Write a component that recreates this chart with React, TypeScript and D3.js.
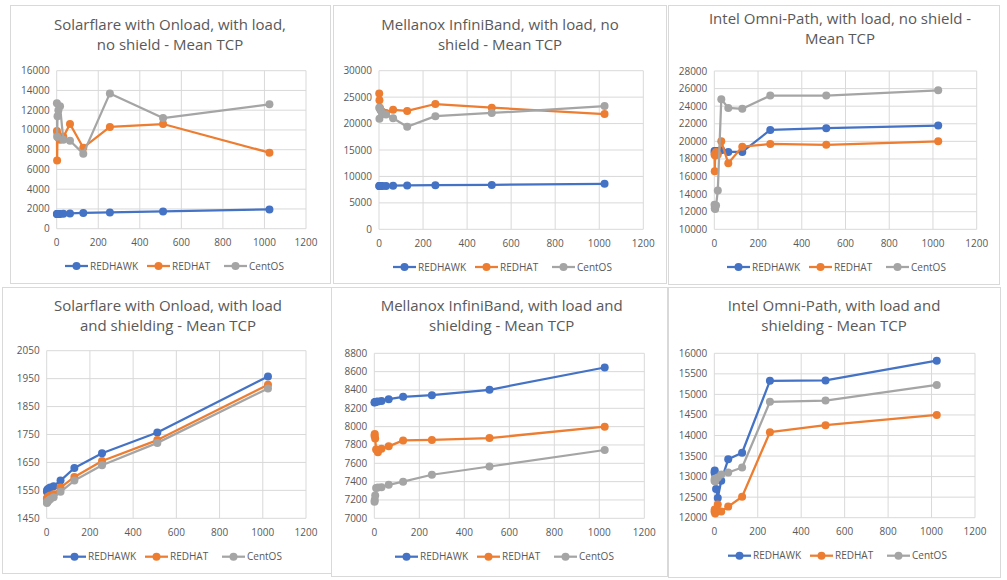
import React from "react";
import * as d3 from "d3";

const xValues = [1, 2, 4, 8, 16, 32, 64, 128, 256, 512, 1024];
const seriesNames = ["REDHAWK", "REDHAT", "CentOS"];
const seriesColors = ["#4472C4", "#ED7D31", "#A5A5A5"];
const xTicks = [0, 200, 400, 600, 800, 1000, 1200];

const titles = [
  ["Solarflare with Onload, with load,", "no shield - Mean TCP"],
  ["Mellanox InfiniBand, with load, no", "shield - Mean TCP"],
  ["Intel Omni-Path, with load, no shield -", "Mean TCP"],
  ["Solarflare with Onload, with load", "and shielding - Mean TCP"],
  ["Mellanox InfiniBand, with load and", "shielding - Mean TCP"],
  ["Intel Omni-Path, with load and", "shielding - Mean TCP"],
];

const yTicks1 = [0, 2000, 4000, 6000, 8000, 10000, 12000, 14000, 16000];
const yTicks2 = [0, 5000, 10000, 15000, 20000, 25000, 30000];
const yTicks3 = [10000, 12000, 14000, 16000, 18000, 20000, 22000, 24000, 26000, 28000];
const yTicks4 = [1450, 1550, 1650, 1750, 1850, 1950, 2050];
const yTicks5 = [7000, 7200, 7400, 7600, 7800, 8000, 8200, 8400, 8600, 8800];
const yTicks6 = [12000, 12500, 13000, 13500, 14000, 14500, 15000, 15500, 16000];

// Solarflare, load, no shield
const sfNoRedhawk = [1500, 1500, 1500, 1500, 1500, 1520, 1550, 1600, 1650, 1750, 1950];
const sfNoRedhat = [9900, 6900, 9600, 9200, 9000, 9300, 10600, 8200, 10300, 10600, 7700];
const sfNoCentos = [12700, 9300, 11400, 12000, 12400, 9000, 8900, 7600, 13700, 11200, 12600];

// Mellanox, load, no shield
const mlNoRedhawk = [8200, 8200, 8200, 8200, 8200, 8200, 8250, 8300, 8350, 8400, 8600];
const mlNoRedhat = [25700, 24400, 23000, 22500, 22200, 22000, 22600, 22400, 23700, 23000, 21800];
const mlNoCentos = [23000, 20900, 22800, 22500, 21800, 21700, 21000, 19400, 21400, 22000, 23300];

// Intel, load, no shield
const inNoRedhawk = [18900, 18700, 18900, 18800, 18900, 19000, 18800, 18800, 21300, 21500, 21800];
const inNoRedhat = [18500, 16600, 18400, 18800, 18500, 20000, 17500, 19400, 19700, 19600, 20000];
const inNoCentos = [12800, 12400, 12300, 12700, 14400, 24800, 23800, 23700, 25200, 25200, 25800];

// Solarflare, load, shielding
const sfShRedhawk = [1545, 1550, 1553, 1556, 1560, 1565, 1585, 1630, 1683, 1757, 1958];
const sfShRedhat = [1520, 1522, 1525, 1528, 1532, 1536, 1560, 1598, 1655, 1730, 1928];
const sfShCentos = [1505, 1508, 1510, 1513, 1518, 1525, 1545, 1585, 1640, 1720, 1915];

// Mellanox, load, shielding
const mlShRedhawk = [8262, 8265, 8268, 8272, 8275, 8280, 8300, 8325, 8343, 8402, 8645];
const mlShRedhat = [7900, 7920, 7870, 7750, 7720, 7760, 7785, 7850, 7855, 7875, 8000];
const mlShCentos = [7180, 7200, 7250, 7330, 7335, 7340, 7365, 7400, 7475, 7565, 7745];

// Intel, load, shielding
const inShRedhawk = [13100, 13150, 13050, 12700, 12480, 12900, 13420, 13580, 15330, 15340, 15820];
const inShRedhat = [12150, 12200, 12100, 12200, 12320, 12150, 12270, 12510, 14080, 14250, 14500];
const inShCentos = [12900, 12950, 12880, 12950, 12980, 13050, 13100, 13220, 14820, 14850, 15230];

const panelData = [
  { series: [sfNoRedhawk, sfNoRedhat, sfNoCentos], yTicks: yTicks1 },
  { series: [mlNoRedhawk, mlNoRedhat, mlNoCentos], yTicks: yTicks2 },
  { series: [inNoRedhawk, inNoRedhat, inNoCentos], yTicks: yTicks3 },
  { series: [sfShRedhawk, sfShRedhat, sfShCentos], yTicks: yTicks4 },
  { series: [mlShRedhawk, mlShRedhat, mlShCentos], yTicks: yTicks5 },
  { series: [inShRedhawk, inShRedhat, inShCentos], yTicks: yTicks6 },
];

// layout (absolute page-relative svg coordinates)
const layouts = [
  { box: [10, 5, 320, 278], plot: [56.7, 70.7, 306, 228.7], titleX: 170, titleY: 30, legendX: 65, legendY: 266 },
  { box: [333, 5, 333, 278], plot: [379, 70.7, 643.3, 229.3], titleX: 500, titleY: 30, legendX: 393, legendY: 267 },
  { box: [668, 5, 331, 279], plot: [714.3, 71, 976.7, 229.3], titleX: 840, titleY: 24, legendX: 727, legendY: 267 },
  { box: [2, 287, 331, 286], plot: [46.7, 350.7, 306, 518.3], titleX: 168, titleY: 311, legendX: 63, legendY: 556.7 },
  { box: [331, 287, 336, 289], plot: [374.3, 353.3, 644.3, 518.3], titleX: 501.7, titleY: 311, legendX: 395, legendY: 556.7 },
  { box: [668, 287, 332, 290], plot: [714.3, 353.3, 975, 517.7], titleX: 834, titleY: 311, legendX: 728, legendY: 555.7 },
];

const legendOffsets = [0, 82, 159];
const FONT = "'Open Sans', sans-serif";
const TEXT = "#595959";

function Panel({ idx }: { idx: number }) {
  const L = layouts[idx];
  const D = panelData[idx];
  const [px0, py0, px1, py1] = L.plot;
  const yDom = d3.extent(D.yTicks) as [number, number];
  const x = d3.scaleLinear().domain([0, 1200]).range([px0, px1]);
  const y = d3.scaleLinear().domain(yDom).range([py1, py0]);
  const line = d3
    .line<number>()
    .x((_, i) => x(xValues[i]))
    .y((v) => y(v));
  return (
    <g>
      <rect x={L.box[0] + 0.5} y={L.box[1] + 0.5} width={L.box[2]} height={L.box[3]} fill="#fff" stroke="#d9d9d9" />
      {titles[idx].map((t, i) => (
        <text key={i} x={L.titleX} y={L.titleY + i * 20} textAnchor="middle" fontSize={15} fill={TEXT} fontFamily={FONT}>
          {t}
        </text>
      ))}
      {D.yTicks.map((t) => (
        <g key={"y" + t}>
          <line x1={px0} x2={px1} y1={y(t)} y2={y(t)} stroke="#d9d9d9" strokeWidth={1} />
          <text x={px0 - 7} y={y(t)} dy="0.35em" textAnchor="end" fontSize={10} fill={TEXT} fontFamily={FONT}>
            {t}
          </text>
        </g>
      ))}
      {xTicks.map((t) => (
        <g key={"x" + t}>
          <line x1={x(t)} x2={x(t)} y1={py0} y2={py1} stroke="#d9d9d9" strokeWidth={1} />
          <text x={x(t)} y={py1 + 14} dy="0.35em" textAnchor="middle" fontSize={10} fill={TEXT} fontFamily={FONT}>
            {t}
          </text>
        </g>
      ))}
      {D.series.map((s, si) => (
        <g key={"s" + si}>
          <path d={line(s) || ""} fill="none" stroke={seriesColors[si]} strokeWidth={2.25} strokeLinejoin="round" />
          {s.map((v, i) => (
            <circle key={i} cx={x(xValues[i])} cy={y(v)} r={4} fill={seriesColors[si]} />
          ))}
        </g>
      ))}
      {seriesNames.map((n, si) => {
        const lx = L.legendX + legendOffsets[si];
        return (
          <g key={"l" + si}>
            <line x1={lx} x2={lx + 23} y1={L.legendY} y2={L.legendY} stroke={seriesColors[si]} strokeWidth={2.25} />
            <circle cx={lx + 11.5} cy={L.legendY} r={4} fill={seriesColors[si]} />
            <text x={lx + 25} y={L.legendY} dy="0.35em" fontSize={10} fill={TEXT} fontFamily={FONT}>
              {n}
            </text>
          </g>
        );
      })}
    </g>
  );
}

export default function App() {
  return (
    <svg width={1007} height={580} style={{ position: "absolute", left: 0, top: 0 }}>
      <rect x={0} y={0} width={1007} height={580} fill="#fff" />
      {layouts.map((_, i) => (
        <Panel key={i} idx={i} />
      ))}
    </svg>
  );
}
